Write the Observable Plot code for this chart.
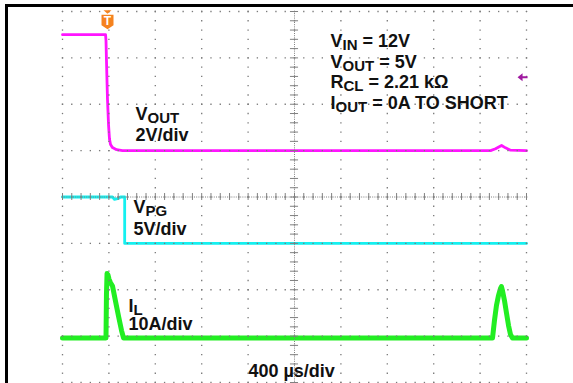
<!DOCTYPE html>
<html><head><meta charset="utf-8">
<script src="https://cdn.jsdelivr.net/npm/d3@7"></script>
<script src="https://cdn.jsdelivr.net/npm/@observablehq/plot@0.6"></script>
<style>
body{margin:0;background:#fff;}
#wrap{position:relative;width:573px;height:383px;overflow:hidden;background:#fff;}
#chart{position:absolute;left:0;top:0;}
#frame{position:absolute;left:5px;top:4px;width:640px;height:440px;border-top:3px solid #000;border-left:3px solid #000;pointer-events:none;}
</style></head><body>
<div id="wrap"><div id="chart"></div><div id="frame"></div></div>
<script>
// Oscilloscope: 400 µs/div, 10 horizontal divisions, 8 vertical divisions
const timeDomainUs = [0, 4000];
const divDomain = [0, 8];

// VOUT (2 V/div, ground at division 5)
const voutTimeUs = [0, 371, 375, 379, 388, 397, 405, 414, 431, 466, 517, 3690, 3733, 3785, 3819, 3862, 4000];
const voutVolts  = [5.0, 5.0, 4.75, 3.9, 2.2, 1.1, 0.5, 0.26, 0.13, 0.04, 0, 0, 0.08, 0.22, 0.12, 0.02, 0];

// VPG (5 V/div, ground at division 3)
const vpgTimeUs = [0, 431, 448, 466, 483, 500, 536, 536, 4000];
const vpgVolts  = [5, 5, 4.75, 4.8, 4.85, 5, 5, 0, 0];

// IL (10 A/div, ground at division 1)
const ilTimeUs = [0, 375, 379, 384, 392, 401, 414, 431, 457, 483, 509, 526, 3698, 3707, 3724, 3741, 3759, 3776, 3784, 3793, 3810, 3828, 3845, 3862, 3879, 4000];
const ilAmps   = [-0.4, -0.4, 9, 13.5, 13.2, 12.3, 11.5, 10.8, 7.5, 4.3, 1.2, -0.4, -0.4, -0.4, 3.4, 6.6, 8.8, 10.3, 10.7, 9.8, 7.7, 4.9, 2.3, 0.35, -0.4, -0.4];

const channelNames   = ["VOUT", "VPG", "IL"];
const channelPerDiv  = [2, 5, 10];
const channelOffset  = [5, 3, 1];
const channelColors  = ["#ff14ff", "#14f0f0", "#22ee22"];
const channelWidths  = [2.8, 2.8, 5];

// Labels
const labelText = ["V_{OUT}", "2V/div", "V_{PG}", "5V/div", "I_{L}", "10A/div", "400 µs/div",
  "V_{IN} = 12V", "V_{OUT} = 5V", "R_{CL} = 2.21 kΩ", "I_{OUT} = 0A TO SHORT"];
const labelTimeUs = [629, 629, 612, 612, 569, 569, 1603, 2310, 2310, 2310, 2310];
const labelDiv    = [5.65, 5.215, 3.645, 3.19, 1.53, 1.125, 0.12, 7.245, 6.79, 6.35, 5.90];

// markers
const triggerTimeUs = [388];
const triggerDiv = [7.78];
const levelMarkerTimeUs = [3966];
const levelMarkerDiv = [6.58];

const traces = [
  [voutTimeUs, voutVolts], [vpgTimeUs, vpgVolts], [ilTimeUs, ilAmps]
];
const traceData = traces.flatMap(([ts, vs], c) => ts.map((t, i) => ({
  ch: channelNames[c], t, div: vs[i] / channelPerDiv[c] + channelOffset[c]
})));

const majorT = d3.range(0, 4001, 400);
const minorT = d3.range(0, 4001, 80);
const majorD = d3.range(0, 9, 1);
const minorD = d3.range(0, 8.001, 0.2).map(v => +v.toFixed(2));
const gridDots = [];
for (const t of majorT) for (const d of minorD) gridDots.push({t, d});
for (const d of majorD) for (const t of minorT) gridDots.push({t, d});

const labels = labelText.map((s, i) => ({s, t: labelTimeUs[i], d: labelDiv[i]}));

const shield = {draw(ctx) {
  ctx.moveTo(-6, -7); ctx.lineTo(6, -7); ctx.lineTo(6, 3.5); ctx.lineTo(0, 7.5); ctx.lineTo(-6, 3.5); ctx.closePath();
}};
const smallTri = {draw(ctx) {
  ctx.moveTo(-4, -11.5); ctx.lineTo(4, -11.5); ctx.lineTo(0, -8); ctx.closePath();
}};
const leftArrow = {draw(ctx) {
  ctx.moveTo(-5, 0); ctx.lineTo(0, -4); ctx.lineTo(0, 4); ctx.closePath();
  ctx.moveTo(0, -1); ctx.lineTo(5, -1); ctx.lineTo(5, 1); ctx.lineTo(0, 1); ctx.closePath();
}};

const chart = Plot.plot({
  width: 573, height: 383,
  marginLeft: 62, marginRight: 47, marginTop: 11, marginBottom: 1,
  x: {domain: timeDomainUs, axis: null},
  y: {domain: divDomain, axis: null},
  color: {domain: channelNames, range: channelColors},
  style: {background: "transparent", fontFamily: "'Liberation Sans', Arial, sans-serif"},
  marks: [
    ...channelNames.map((n, c) => Plot.line(traceData.filter(d => d.ch === n), {
      x: "t", y: "div", stroke: channelColors[c], strokeWidth: channelWidths[c], strokeLinejoin: "round", curve: "linear"
    })),
    Plot.dot(gridDots, {x: "t", y: "d", r: 0.75, symbol: "square", fill: "#7a7a7a"}),
    Plot.ruleX([2000], {stroke: "#808080", strokeDasharray: "1,1.2", strokeWidth: 1}),
    Plot.ruleY([4], {stroke: "#808080", strokeDasharray: "1,1.2", strokeWidth: 1}),
    Plot.ruleX(minorT, {y1: 3.925, y2: 4.075, stroke: "#808080", strokeWidth: 1}),
    Plot.ruleY(minorD, {x1: 1965, x2: 2035, stroke: "#808080", strokeWidth: 1}),
    Plot.text(labels, {x: "t", y: "d", text: "s", textAnchor: "start", lineAnchor: "bottom",
      fontSize: 18, fontWeight: "bold", fill: "#111"}),
    Plot.dot(triggerTimeUs.map((t, i) => ({t, d: triggerDiv[i]})), {x: "t", y: "d", symbol: shield, fill: "#f5821f", r: 5}),
    Plot.dot(triggerTimeUs.map((t, i) => ({t, d: triggerDiv[i]})), {x: "t", y: "d", symbol: smallTri, fill: "#f5821f", r: 5}),
    Plot.text(triggerTimeUs.map((t, i) => ({t, d: triggerDiv[i]})), {x: "t", y: "d", text: () => "T", dy: -1, fontSize: 12, fontWeight: "bold", fill: "#fff", lineAnchor: "middle"}),
    Plot.dot(levelMarkerTimeUs.map((t, i) => ({t, d: levelMarkerDiv[i]})), {x: "t", y: "d", symbol: leftArrow, fill: "#a01aa0", r: 5})
  ]
});

// subscripts
chart.querySelectorAll("text").forEach(el => {
  const s = el.textContent;
  if (!s.includes("_{")) return;
  const parts = s.split(/_\{([^}]*)\}/);
  el.textContent = "";
  parts.forEach((p, i) => {
    if (!p) return;
    const ts = document.createElementNS("http://www.w3.org/2000/svg", "tspan");
    ts.textContent = p;
    if (i % 2 === 1) { ts.setAttribute("font-size", "15"); ts.setAttribute("dy", "3"); }
    else if (i > 0) { ts.setAttribute("dy", "-3"); }
    el.appendChild(ts);
  });
});

document.getElementById("chart").appendChild(chart);
</script>
</body></html>
